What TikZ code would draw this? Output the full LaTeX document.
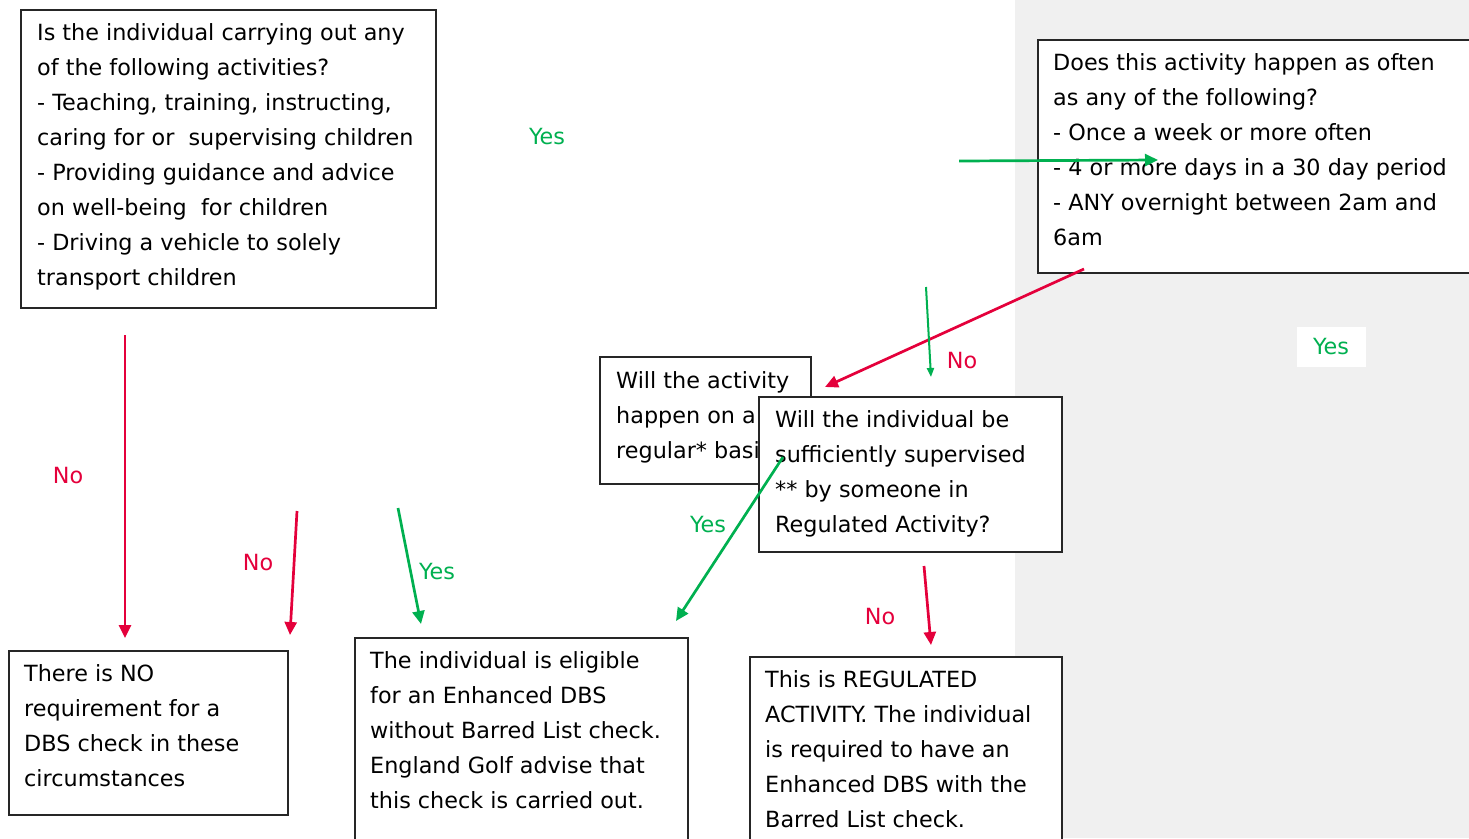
\documentclass[tikz,border=0pt]{standalone}
\usepackage{fontspec}
\setmainfont{DejaVu Sans}
\usetikzlibrary{arrows.meta}
\definecolor{grn}{RGB}{0,176,80}
\definecolor{rd}{RGB}{228,0,59}
\definecolor{bgc}{RGB}{240,240,240}
\begin{document}
\begin{tikzpicture}[x=1pt,y=-1pt,
  box/.style={draw=black!85, line width=1.3pt, fill=white, anchor=north west, inner sep=0pt, outer sep=0pt},
  txt/.style={anchor=north west, inner sep=0pt, align=left, font=\fontsize{22.3}{35}\selectfont},
  garr/.style={draw=grn, line width=2.7pt, -{Triangle[length=13pt,width=12pt]}},
  rarr/.style={draw=rd, line width=2.7pt, -{Triangle[length=13pt,width=12pt]}},
  gthin/.style={draw=grn, line width=2pt, -{Triangle[length=9pt,width=7pt]}},
  lbl/.style={font=\fontsize{22.3}{26}\selectfont, inner sep=0pt}]
\useasboundingbox (0,0) rectangle (1469,838);
\clip (0,0) rectangle (1469,838);
\fill[bgc] (1015,0) rectangle (1469,838);

% Box A
\node[box, minimum width=415pt, minimum height=298pt] (A) at (21,10) {};
\node[txt] (At) at (37,16) {\strut Is the individual carrying out any\\of the following activities?\\- Teaching, training, instructing,\\caring for or\ \ supervising children\\- Providing guidance and advice\\on well-being\ \ for children\\- Driving a vehicle to solely\\transport children};

% Box B
\node[box, minimum width=450pt, minimum height=233pt] (B) at (1038,40) {};
\node[txt] (Bt) at (1053,46) {\strut Does this activity happen as often\\as any of the following?\\- Once a week or more often\\- 4 or more days in a 30 day period\\- ANY overnight between 2am and\\6am};

% Box C
\node[box, minimum width=211pt, minimum height=127pt] (C) at (600,357) {};
\node[txt] (Ct) at (616,364) {\strut Will the activity\\happen on a\\regular* basis?};

% Box D
\node[box, minimum width=303pt, minimum height=155pt] (D) at (759,397) {};
\node[txt] (Dt) at (775,403) {\strut Will the individual be\\sufficiently supervised\\** by someone in\\Regulated Activity?};

% Box E
\node[box, minimum width=279pt, minimum height=164pt] (E) at (9,651) {};
\node[txt] (Et) at (24,657) {\strut There is NO\\requirement for a\\DBS check in these\\circumstances};

% Box F
\node[box, minimum width=333pt, minimum height=220pt] (F) at (355,638) {};
\node[txt] (Ft) at (370,644) {\strut The individual is eligible\\for an Enhanced DBS\\without Barred List check.\\England Golf advise that\\this check is carried out.};

% Box G
\node[box, minimum width=312pt, minimum height=200pt] (G) at (750,657) {};
\node[txt] (Gt) at (765,663) {\strut This is REGULATED\\ACTIVITY. The individual\\is required to have an\\Enhanced DBS with the\\Barred List check.};

% arrow coordinates
\coordinate (g1s) at (959,161);  \coordinate (g1e) at (1158,160);
\coordinate (r1s) at (1084,269); \coordinate (r1e) at (825,387);
\coordinate (g2s) at (926,287);  \coordinate (g2e) at (931,377);
\coordinate (r2s) at (125,335);  \coordinate (r2e) at (125,638);
\coordinate (r3s) at (297,511);  \coordinate (r3e) at (290,635);
\coordinate (g3s) at (398,508);  \coordinate (g3e) at (421,624);
\coordinate (g4s) at (783,457);  \coordinate (g4e) at (676,621);
\coordinate (r4s) at (924,566);  \coordinate (r4e) at (931,645);

\draw[garr] (g1s) -- (g1e);
\draw[rarr] (r1s) -- (r1e);
\draw[gthin] (g2s) -- (g2e);
\draw[rarr] (r2s) -- (r2e);
\draw[rarr] (r3s) -- (r3e);
\draw[garr] (g3s) -- (g3e);
\draw[garr] (g4s) -- (g4e);
\draw[rarr] (r4s) -- (r4e);

% labels
\node[lbl, text=grn] (l1) at (547,137) {Yes};
\node[lbl, text=rd] (l2) at (962,361) {No};
\node[lbl, text=grn, fill=white, minimum width=69pt, minimum height=40pt] (l3) at (1331,347) {Yes};
\node[lbl, text=rd] (l4) at (68,476) {No};
\node[lbl, text=rd] (l5) at (258,563) {No};
\node[lbl, text=grn] (l6) at (437,572) {Yes};
\node[lbl, text=grn] (l7) at (708,525) {Yes};
\node[lbl, text=rd] (l8) at (880,617) {No};
\end{tikzpicture}
\end{document}
